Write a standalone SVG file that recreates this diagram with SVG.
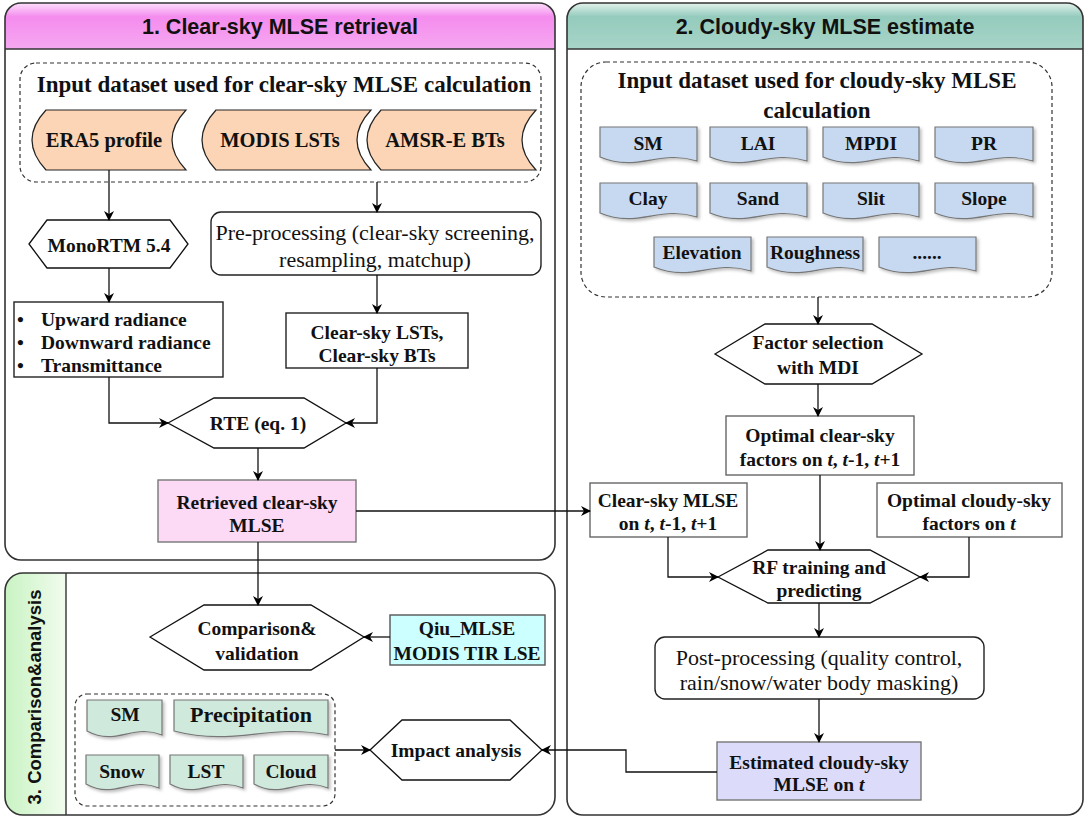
<svg xmlns="http://www.w3.org/2000/svg" width="1086" height="819" viewBox="0 0 1086 819">
<defs>
  <linearGradient id="gPink" x1="0" y1="0" x2="0" y2="1">
    <stop offset="0" stop-color="#fde0fb"/>
    <stop offset="0.3" stop-color="#f48cee"/>
    <stop offset="1" stop-color="#f6a8f1"/>
  </linearGradient>
  <linearGradient id="gTeal" x1="0" y1="0" x2="0" y2="1">
    <stop offset="0" stop-color="#e2f1ec"/>
    <stop offset="0.3" stop-color="#94cbbc"/>
    <stop offset="1" stop-color="#a8d5c8"/>
  </linearGradient>
  <linearGradient id="gGreen" x1="0" y1="0" x2="1" y2="0">
    <stop offset="0" stop-color="#c9f3c3"/>
    <stop offset="1" stop-color="#f1fcee"/>
  </linearGradient>
  <filter id="sh" x="-10%" y="-10%" width="130%" height="140%">
    <feDropShadow dx="2" dy="2" stdDeviation="1.5" flood-color="#000" flood-opacity="0.25"/>
  </filter>
  <marker id="arr" viewBox="0 0 10 10" refX="9" refY="5" markerWidth="10" markerHeight="10" markerUnits="userSpaceOnUse" orient="auto">
    <path d="M0,0 L10,5 L0,10 L3,5 z" fill="#000"/>
  </marker>
  <style>
    .panel{fill:none;stroke:#333;stroke-width:1.6}
    .hdr{font-family:"Liberation Sans",Arial,sans-serif;font-weight:bold;font-size:21.5px;fill:#111}
    .dash{fill:none;stroke:#333;stroke-width:1.2;stroke-dasharray:4 3}
    .t{font-family:"Liberation Serif","Times New Roman",serif;font-weight:bold;font-size:19.5px;fill:#111;text-anchor:middle;dominant-baseline:central}
    .tn{font-family:"Liberation Serif","Times New Roman",serif;font-size:22px;fill:#111;text-anchor:middle;dominant-baseline:central}
    .big{font-size:22px}
    .ds{font-size:20.5px}
    .hex{fill:#fff;stroke:#111;stroke-width:1.3}
    .box{fill:#fff;stroke:#666;stroke-width:1.4}
    .bbox{fill:#fff;stroke:#222;stroke-width:1.4}
    .orange{fill:#fbd5b5;stroke:#222;stroke-width:1.2}
    .blue{fill:#c6d9f0;stroke:#777;stroke-width:1.2;filter:url(#sh)}
    .green{fill:#cfe9dc;stroke:#777;stroke-width:1.2;filter:url(#sh)}
    .conn path{fill:none;stroke:#111;stroke-width:1.3}
    .ar{marker-end:url(#arr)}
    .it{font-style:italic}
  </style>
</defs>
<rect width="1086" height="819" fill="#fff"/>

<!-- Panel 1 -->
<g id="panel1">
  <path d="M5,49 V19 A16,16 0 0 1 21,3 H539 A16,16 0 0 1 555,19 V49 Z" fill="url(#gPink)"/>
  <rect x="5" y="3" width="550" height="557" rx="16" class="panel"/>
  <line x1="5" y1="49" x2="555" y2="49" stroke="#333" stroke-width="1.4"/>
  <text x="280" y="27" class="hdr" text-anchor="middle" dominant-baseline="central">1. Clear-sky MLSE retrieval</text>
</g>

<!-- Panel 2 -->
<g id="panel2">
  <path d="M567,49 V19 A16,16 0 0 1 583,3 H1067 A16,16 0 0 1 1083,19 V49 Z" fill="url(#gTeal)"/>
  <rect x="567" y="3" width="516" height="812" rx="16" class="panel"/>
  <line x1="567" y1="49" x2="1083" y2="49" stroke="#333" stroke-width="1.4"/>
  <text x="825" y="27" class="hdr" text-anchor="middle" dominant-baseline="central">2. Cloudy-sky MLSE estimate</text>
</g>

<!-- Panel 3 -->
<g id="panel3">
  <path d="M66,573 V815 H23 A18,18 0 0 1 5,797 V591 A18,18 0 0 1 23,573 Z" fill="url(#gGreen)"/>
  <rect x="5" y="573" width="550" height="242" rx="18" class="panel"/>
  <line x1="66" y1="573" x2="66" y2="815" stroke="#333" stroke-width="1.4"/>
  <text x="0" y="0" transform="translate(34,697) rotate(-90)" class="hdr" style="font-size:18.5px" text-anchor="middle" dominant-baseline="central">3. Comparison&amp;analysis</text>
</g>

<!-- Input dataset 1 -->
<g id="input1">
  <rect x="20" y="63" width="521" height="119" rx="16" class="dash"/>
  <text x="284" y="84" class="t" style="font-size:23px">Input dataset used for clear-sky MLSE calculation</text>
</g>
<g id="era5">
  <path d="M46,110 H186 Q158,140 186,170 H46 Q18,140 46,110 Z" class="orange"/>
  <text x="104" y="140" class="t ds">ERA5 profile</text>
</g>
<g id="modis">
  <path d="M216,110 H371 Q343,140 371,170 H216 Q188,140 216,110 Z" class="orange"/>
  <text x="280" y="140" class="t ds">MODIS LSTs</text>
</g>
<g id="amsr">
  <path d="M381,110 H536 Q508,140 536,170 H381 Q353,140 381,110 Z" class="orange"/>
  <text x="445" y="140" class="t ds">AMSR-E BTs</text>
</g>

<g id="monortm">
  <path d="M29,244 L47,220 H170 L188,244 L170,268 H47 Z" class="hex"/>
  <text x="109" y="245" class="t">MonoRTM 5.4</text>
</g>
<g id="preproc">
  <rect x="211" y="212" width="330" height="63" rx="10" class="bbox"/>
  <text x="375" y="232" class="tn">Pre-processing (clear-sky screening,</text>
  <text x="375" y="259" class="tn">resampling, matchup)</text>
</g>
<g id="radiance">
  <rect x="14" y="302" width="209" height="75" class="bbox"/>
  <g class="t" style="text-anchor:start">
    <text x="17" y="319">•</text><text x="41" y="319">Upward radiance</text>
    <text x="17" y="342">•</text><text x="41" y="342">Downward radiance</text>
    <text x="17" y="365">•</text><text x="41" y="365">Transmittance</text>
  </g>
</g>
<g id="clearlst">
  <rect x="286" y="313" width="182" height="55" class="bbox"/>
  <text x="377" y="332" class="t">Clear-sky LSTs,</text>
  <text x="377" y="355" class="t">Clear-sky BTs</text>
</g>
<g id="rte">
  <path d="M168,423 L214,398 H304 L346,423 L304,448 H214 Z" class="hex"/>
  <text x="258" y="423" class="t">RTE (eq. 1)</text>
</g>
<g id="retrieved">
  <rect x="158" y="480" width="198" height="62" fill="#fcdaf6" stroke="#777" stroke-width="1.4"/>
  <text x="257" y="502" class="t">Retrieved clear-sky</text>
  <text x="257" y="525" class="t">MLSE</text>
</g>

<!-- Panel 2 nodes -->
<g id="input2">
  <rect x="581" y="62" width="471" height="235" rx="25" class="dash"/>
  <text x="817" y="80" class="t" style="font-size:23px">Input dataset used for cloudy-sky MLSE</text>
  <text x="817" y="110" class="t" style="font-size:23px">calculation</text>
</g>
<g id="d-sm"><path d="M600,127 H697 V161 C658,149 639,173 600,157 Z" class="blue"/><text x="648" y="143" class="t">SM</text></g>
<g id="d-lai"><path d="M710,127 H807 V161 C768,149 749,173 710,157 Z" class="blue"/><text x="758" y="143" class="t">LAI</text></g>
<g id="d-mpdi"><path d="M823,127 H919 V161 C881,149 862,173 823,157 Z" class="blue"/><text x="871" y="143" class="t">MPDI</text></g>
<g id="d-pr"><path d="M935,127 H1033 V161 C994,149 974,173 935,157 Z" class="blue"/><text x="984" y="143" class="t">PR</text></g>
<g id="d-clay"><path d="M600,183 H697 V217 C658,205 639,229 600,213 Z" class="blue"/><text x="648" y="198" class="t">Clay</text></g>
<g id="d-sand"><path d="M710,183 H807 V217 C768,205 749,229 710,213 Z" class="blue"/><text x="758" y="198" class="t">Sand</text></g>
<g id="d-slit"><path d="M823,183 H919 V217 C881,205 862,229 823,213 Z" class="blue"/><text x="871" y="198" class="t">Slit</text></g>
<g id="d-slope"><path d="M935,183 H1033 V217 C994,205 974,229 935,213 Z" class="blue"/><text x="984" y="198" class="t">Slope</text></g>
<g id="d-elev"><path d="M654,237 H751 V271 C712,259 693,283 654,267 Z" class="blue"/><text x="702" y="252" class="t">Elevation</text></g>
<g id="d-rough"><path d="M767,237 H863 V271 C825,259 806,283 767,267 Z" class="blue"/><text x="815" y="252" class="t">Roughness</text></g>
<g id="d-more"><path d="M879,237 H976 V271 C937,259 918,283 879,267 Z" class="blue"/><text x="927" y="252" class="t">......</text></g>

<g id="factor">
  <path d="M715,354 L765,324 H872 L922,354 L872,384 H765 Z" class="hex"/>
  <text x="818" y="342" class="t">Factor selection</text>
  <text x="818" y="367" class="t">with MDI</text>
</g>
<g id="optclear">
  <rect x="726" y="416" width="188" height="59" class="box"/>
  <text x="820" y="435" class="t">Optimal clear-sky</text>
  <text x="820" y="459" class="t">factors on <tspan class="it">t</tspan>, <tspan class="it">t</tspan>-1, <tspan class="it">t</tspan>+1</text>
</g>
<g id="clearmlse">
  <rect x="590" y="483" width="157" height="54" class="box"/>
  <text x="668" y="500" class="t">Clear-sky MLSE</text>
  <text x="668" y="523" class="t">on <tspan class="it">t</tspan>, <tspan class="it">t</tspan>-1, <tspan class="it">t</tspan>+1</text>
</g>
<g id="optcloudy">
  <rect x="877" y="483" width="185" height="54" class="box"/>
  <text x="969" y="500" class="t">Optimal cloudy-sky</text>
  <text x="969" y="523" class="t">factors on <tspan class="it">t</tspan></text>
</g>
<g id="rf">
  <path d="M718,577 L768,550 H870 L920,577 L870,603 H768 Z" class="hex"/>
  <text x="819" y="567" class="t">RF training and</text>
  <text x="819" y="590" class="t">predicting</text>
</g>
<g id="postproc">
  <rect x="655" y="637" width="329" height="62" rx="10" class="bbox"/>
  <text x="819" y="657" class="tn">Post-processing (quality control,</text>
  <text x="819" y="682" class="tn">rain/snow/water body masking)</text>
</g>
<g id="estimated">
  <rect x="717" y="742" width="204" height="58" fill="#dcdcfa" stroke="#777" stroke-width="1.4"/>
  <text x="819" y="762" class="t">Estimated cloudy-sky</text>
  <text x="819" y="784" class="t">MLSE on <tspan class="it">t</tspan></text>
</g>

<!-- Panel 3 nodes -->
<g id="comparison">
  <path d="M150,637 L204,605 H311 L364,637 L311,670 H204 Z" class="hex"/>
  <text x="257" y="628" class="t">Comparison&amp;</text>
  <text x="257" y="653" class="t">validation</text>
</g>
<g id="qiu">
  <rect x="390" y="615" width="155" height="50" fill="#ccffff" stroke="#555" stroke-width="1.4"/>
  <text x="467" y="628" class="t">Qiu_MLSE</text>
  <text x="467" y="653" class="t">MODIS TIR LSE</text>
</g>
<g id="impactdata">
  <rect x="75" y="694" width="260" height="112" rx="12" class="dash"/>
</g>
<g id="g-sm"><path d="M87,700 H162 V735 C132,723 117,747 87,731 Z" class="green"/><text x="125" y="714" class="t">SM</text></g>
<g id="g-prec"><path d="M174,700 H328 V735 C268,723 236,747 174,731 Z" class="green"/><text x="251" y="714" class="t big">Precipitation</text></g>
<g id="g-snow"><path d="M86,755 H159 V788 C130,776 115,800 86,784 Z" class="green"/><text x="122" y="771" class="t">Snow</text></g>
<g id="g-lst"><path d="M170,755 H243 V788 C214,776 199,800 170,784 Z" class="green"/><text x="206" y="771" class="t">LST</text></g>
<g id="g-cloud"><path d="M254,755 H328 V788 C299,776 283,800 254,784 Z" class="green"/><text x="291" y="771" class="t">Cloud</text></g>
<g id="impact">
  <path d="M370,750 L402,720 H510 L542,750 L510,780 H402 Z" class="hex"/>
  <text x="456" y="750" class="t">Impact analysis</text>
</g>

<!-- Connectors -->
<g id="connectors" class="conn">
  <path class="ar" d="M109,170 V220"/>
  <path class="ar" d="M377,182 V212"/>
  <path class="ar" d="M109,268 V302"/>
  <path class="ar" d="M377,275 V313"/>
  <path class="ar" d="M109,377 V423 H168"/>
  <path class="ar" d="M377,368 V423 H346"/>
  <path class="ar" d="M258,448 V480"/>
  <path class="ar" d="M356,511 H590"/>
  <path class="ar" d="M258,542 V605"/>
  <path class="ar" d="M390,637 H364"/>
  <path class="ar" d="M335,750 H370"/>
  <path class="ar" d="M717,772 H626 V750 H542"/>
  <path class="ar" d="M818,297 V324"/>
  <path class="ar" d="M818,384 V416"/>
  <path class="ar" d="M820,475 V550"/>
  <path class="ar" d="M668,537 V577 H718"/>
  <path class="ar" d="M969,537 V577 H920"/>
  <path class="ar" d="M819,603 V637"/>
  <path class="ar" d="M819,699 V742"/>
</g>
</svg>
